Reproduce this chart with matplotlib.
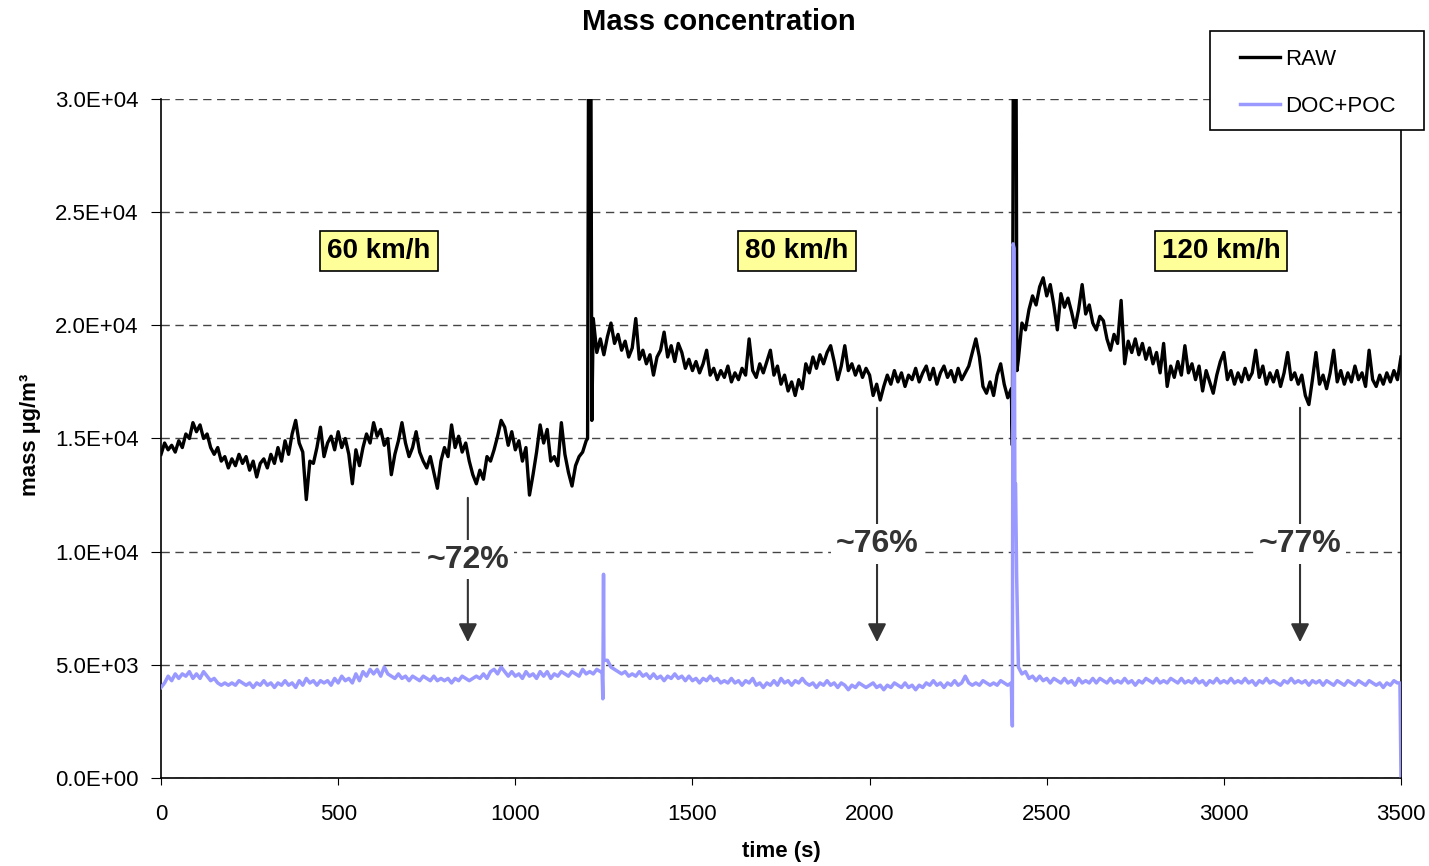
import numpy as np
import matplotlib.pyplot as plt
from matplotlib.patches import Rectangle
from matplotlib.ticker import FuncFormatter

plt.rcParams['font.family'] = ['Liberation Sans', 'DejaVu Sans']

# RAW signal, one value every 10 s (in 1000 ug/m3)
raw_k = [
    14.3, 14.8, 14.5, 14.7, 14.4, 14.9, 14.6, 15.2, 15.0, 15.7,
    15.3, 15.6, 15.0, 15.2, 14.6, 14.3, 14.6, 14.0, 14.2, 13.7,
    14.1, 13.8, 14.3, 13.9, 14.2, 13.6, 14.0, 13.3, 13.9, 14.1,
    13.7, 14.3, 13.9, 14.6, 14.0, 14.9, 14.3, 15.2, 15.8, 14.8,
    14.4, 12.3, 14.0, 13.9, 14.6, 15.5, 14.2, 14.8, 15.1, 14.5,
    15.3, 14.6, 15.0, 14.3, 13.0, 14.5, 13.8, 14.6, 15.2, 14.8,
    15.7, 15.1, 15.4, 14.7, 15.0, 13.4, 14.3, 14.9, 15.7, 14.8,
    14.2, 14.6, 15.3, 14.4, 14.0, 13.7, 14.2, 13.5, 12.8, 14.0,
    14.6, 14.2, 15.6, 14.6, 15.1, 14.4, 14.8, 14.0, 13.4, 13.0,
    13.6, 13.2, 14.2, 14.0, 14.5, 15.1, 15.8, 15.5, 14.7, 15.3,
    14.5, 14.9, 14.0, 14.6, 12.5, 13.4, 14.4, 15.6, 14.8, 15.4,
    14.0, 14.2, 13.8, 15.7, 14.3, 13.5, 12.9, 13.8, 14.2, 14.4,
    14.9, 33.0, 20.3, 18.8, 19.4, 18.7, 19.5, 20.1, 19.2, 19.6,
    18.9, 19.3, 18.6, 19.0, 20.3, 18.5, 18.9, 18.3, 18.7, 17.8,
    18.6, 18.9, 19.7, 18.6, 19.1, 18.4, 19.2, 18.8, 18.1, 18.5,
    18.0, 18.4, 17.9, 18.3, 18.9, 17.8, 18.1, 17.6, 18.0, 17.7,
    18.2, 17.5, 17.9, 17.6, 18.1, 17.8, 19.4, 18.0, 17.7, 18.3,
    17.9, 18.4, 18.9, 17.8, 18.2, 17.4, 17.8, 17.1, 17.5, 16.9,
    17.6, 17.2, 18.3, 17.9, 18.6, 18.1, 18.7, 18.3, 18.8, 19.1,
    18.4, 17.6, 18.2, 19.1, 18.0, 18.3, 17.8, 18.2, 17.7, 18.1,
    17.8, 16.9, 17.4, 16.7, 17.3, 17.8, 17.4, 18.0, 17.5, 17.9,
    17.3, 17.8, 17.6, 18.1, 17.5, 17.9, 18.2, 17.6, 18.1, 17.4,
    17.9, 18.2, 17.7, 18.0, 17.5, 18.1, 17.6, 17.9, 18.2, 18.8,
    19.4, 18.6, 17.3, 17.0, 17.5, 16.9, 17.8, 18.3, 17.4, 16.8,
    17.2, 33.0, 18.5, 20.1, 19.8, 20.7, 21.3, 20.9, 21.7, 22.1,
    21.3, 21.8, 20.9, 19.8, 21.4, 20.8, 21.2, 20.6, 19.9, 20.7,
    21.8, 20.5, 20.9, 20.1, 19.8, 20.4, 20.2, 19.4, 18.9, 19.6,
    19.2, 21.1, 18.3, 19.3, 18.8, 19.4, 18.7, 19.2, 18.5, 19.0,
    18.3, 18.8, 17.9, 19.2, 17.3, 18.2, 17.7, 18.4, 17.8, 19.1,
    17.9, 18.3, 17.6, 18.2, 17.1, 18.0, 17.5, 17.0, 17.8, 18.4,
    18.8, 17.6, 18.0, 17.4, 17.9, 17.5, 18.1, 17.6, 17.9, 18.9,
    17.7, 18.2, 17.4, 17.9, 17.5, 18.0, 17.3, 17.9, 18.8, 17.6,
    17.9, 17.4, 17.8, 16.9, 16.5, 17.6, 18.8, 17.4, 17.8, 17.2,
    17.9, 18.9, 17.5, 18.0, 17.4, 17.9, 17.5, 18.2, 17.6, 17.9,
    17.3, 18.9, 17.6, 17.3, 17.8, 17.4, 17.9, 17.5, 18.0, 17.6,
    18.6,
]
# extra samples around the two spikes
raw_spike_t = [1204, 1207, 1213, 1216, 2403, 2406, 2413, 2416]
raw_spike_k = [15.0, 34.0, 34.0, 15.8, 14.7, 34.0, 34.0, 18.0]

# DOC+POC signal, one value every 10 s
doc_k = [
    4.0, 4.2, 4.5, 4.3, 4.6, 4.4, 4.6, 4.5, 4.7, 4.4,
    4.6, 4.4, 4.7, 4.5, 4.3, 4.4, 4.2, 4.1, 4.2, 4.1,
    4.2, 4.1, 4.3, 4.2, 4.1, 4.2, 4.0, 4.2, 4.1, 4.3,
    4.1, 4.2, 4.0, 4.2, 4.1, 4.3, 4.1, 4.2, 4.0, 4.3,
    4.1, 4.4, 4.2, 4.3, 4.1, 4.3, 4.2, 4.3, 4.1, 4.4,
    4.2, 4.5, 4.3, 4.4, 4.2, 4.6, 4.3, 4.7, 4.5, 4.8,
    4.6, 4.8, 4.5, 4.9, 4.6, 4.5, 4.4, 4.6, 4.4, 4.5,
    4.3, 4.5, 4.4, 4.3, 4.5, 4.4, 4.3, 4.5, 4.3, 4.4,
    4.3, 4.4, 4.2, 4.4, 4.3, 4.5, 4.4, 4.3, 4.4, 4.5,
    4.4, 4.6, 4.4, 4.7, 4.8, 4.6, 4.9, 4.7, 4.5, 4.7,
    4.5, 4.6, 4.4, 4.7, 4.5, 4.6, 4.4, 4.7, 4.5, 4.7,
    4.4, 4.6, 4.5, 4.7, 4.6, 4.5, 4.7, 4.6, 4.5, 4.8,
    4.6, 4.7, 4.6, 4.8, 4.7, 5.2, 5.2, 4.9, 4.8, 4.7,
    4.6, 4.7, 4.5, 4.6, 4.5, 4.7, 4.5, 4.6, 4.4, 4.6,
    4.4, 4.5, 4.3, 4.5, 4.4, 4.6, 4.4, 4.5, 4.3, 4.5,
    4.3, 4.4, 4.2, 4.4, 4.3, 4.5, 4.3, 4.4, 4.2, 4.3,
    4.2, 4.4, 4.2, 4.3, 4.1, 4.3, 4.2, 4.4, 4.1, 4.2,
    4.0, 4.2, 4.1, 4.3, 4.1, 4.4, 4.2, 4.3, 4.1, 4.3,
    4.2, 4.4, 4.2, 4.1, 4.2, 4.0, 4.2, 4.1, 4.3, 4.1,
    4.2, 4.0, 4.2, 4.1, 3.9, 4.1, 4.0, 4.2, 4.1, 4.0,
    4.1, 4.2, 4.0, 4.1, 3.9, 4.1, 4.0, 4.2, 4.1, 4.0,
    4.2, 4.0, 4.1, 3.9, 4.1, 4.0, 4.2, 4.1, 4.3, 4.1,
    4.2, 4.0, 4.2, 4.1, 4.3, 4.1, 4.2, 4.5, 4.2, 4.1,
    4.2, 4.1, 4.3, 4.2, 4.1, 4.2, 4.1, 4.3, 4.2, 4.1,
    4.2, 13.0, 4.9, 4.6, 4.7, 4.4, 4.5, 4.3, 4.5, 4.3,
    4.4, 4.2, 4.4, 4.3, 4.2, 4.4, 4.2, 4.3, 4.1, 4.4,
    4.2, 4.3, 4.2, 4.4, 4.2, 4.4, 4.3, 4.2, 4.4, 4.2,
    4.3, 4.2, 4.4, 4.2, 4.3, 4.1, 4.3, 4.2, 4.4, 4.3,
    4.2, 4.4, 4.2, 4.3, 4.2, 4.4, 4.3, 4.2, 4.4, 4.2,
    4.3, 4.2, 4.4, 4.2, 4.3, 4.1, 4.3, 4.2, 4.4, 4.2,
    4.3, 4.2, 4.4, 4.2, 4.3, 4.2, 4.4, 4.2, 4.3, 4.1,
    4.3, 4.2, 4.4, 4.2, 4.3, 4.2, 4.1, 4.3, 4.2, 4.4,
    4.2, 4.3, 4.2, 4.3, 4.1, 4.3, 4.2, 4.3, 4.1, 4.3,
    4.2, 4.1, 4.3, 4.2, 4.1, 4.3, 4.2, 4.1, 4.3, 4.2,
    4.1, 4.3, 4.2, 4.1, 4.2, 4.0, 4.2, 4.1, 4.3, 4.2,
    0.1,
]
doc_spike_t = [1245, 1247, 1249, 2403, 2405, 2408, 2412, 2415, 3497]
doc_spike_k = [4.7, 3.5, 9.0, 2.3, 23.6, 23.4, 13.0, 9.0, 4.2]

speed_labels = ['60 km/h', '80 km/h', '120 km/h']
speed_x = [615, 1795, 2992]
ratio_labels = ['~72%', '~76%', '~77%']
ratio_x = [866, 2021, 3215]
ratio_top = [12500, 16480, 16480]
ratio_text_y = [9650, 10330, 10330]
ratio_tip = 5880


def merge(vals, extra_t, extra_v):
    t = np.concatenate([np.arange(len(vals)) * 10, extra_t])
    v = np.concatenate([vals, extra_v]) * 1000
    order = np.argsort(t, kind='stable')
    return t[order], v[order]


raw_t, raw = merge(raw_k, raw_spike_t, raw_spike_k)
doc_t, doc = merge(doc_k, doc_spike_t, doc_spike_k)

fig = plt.figure(figsize=(14.29, 8.66), dpi=100)
ax = fig.add_axes([0.1127, 0.1016, 0.8677, 0.7841])

ax.plot(raw_t, raw, color='black', lw=2.4, label='RAW', zorder=3)
ax.plot(doc_t, doc, color='#9999ff', lw=2.5, label='DOC+POC', zorder=4)

ax.set_xlim(0, 3500)
ax.set_ylim(0, 30000)
ax.set_xticks(np.arange(0, 3501, 500))
ax.set_yticks(np.arange(0, 30001, 5000))
ax.yaxis.set_major_formatter(FuncFormatter(lambda v, p: f'{v:.1E}'))
ax.tick_params(axis='both', labelsize=16, direction='out', color='black')
ax.tick_params(axis='x', length=5, pad=14)
ax.tick_params(axis='y', length=7, pad=9)
ax.grid(axis='y', linestyle=(0, (6, 4)), color='#444444', lw=1)
ax.spines['top'].set_visible(False)
for s in ['left', 'bottom', 'right']:
    ax.spines[s].set_color('black')
    ax.spines[s].set_linewidth(1.2)

ax.set_xlabel('time (s)', fontsize=16, fontweight='bold')
ax.xaxis.set_label_coords(0.5, -0.093)
ax.set_ylabel('mass µg/m³', fontsize=16, fontweight='bold')
ax.yaxis.set_label_coords(-0.097, 0.505)
fig.suptitle('Mass concentration', fontsize=21, fontweight='bold', x=0.503, y=0.975, va='center')

for lab, x in zip(speed_labels, speed_x):
    ax.text(x, 23300, lab, fontsize=20, fontweight='bold', ha='center', va='center', zorder=6,
            bbox=dict(boxstyle='square,pad=0.25', fc='#ffff99', ec='black', lw=1.2))

for lab, x, top, ty in zip(ratio_labels, ratio_x, ratio_top, ratio_text_y):
    ax.annotate('', xy=(x, ratio_tip), xytext=(x, top),
                arrowprops=dict(arrowstyle='-|>', color='#333333', lw=1.5, mutation_scale=28),
                zorder=5)
    ax.text(x, ty, lab, fontsize=23, fontweight='bold', color='#333333', ha='center', va='center',
            zorder=6, bbox=dict(boxstyle='square,pad=0.15', fc='white', ec='none'))

# legend box sits partly outside the plot, like the original
fig.patches.append(Rectangle((1210 / 1429, 1 - 130 / 866), 214 / 1429, 99 / 866,
                             transform=fig.transFigure, fc='white', ec='black', lw=1.2, zorder=10))
leg = fig.legend(loc='upper left', bbox_to_anchor=(1224 / 1429, 1 - 33 / 866), frameon=False,
                 fontsize=16, handlelength=1.8, handletextpad=0.25, labelspacing=1.2,
                 borderpad=0.2)
leg.set_zorder(11)

fig.savefig('out.png', dpi=100)
